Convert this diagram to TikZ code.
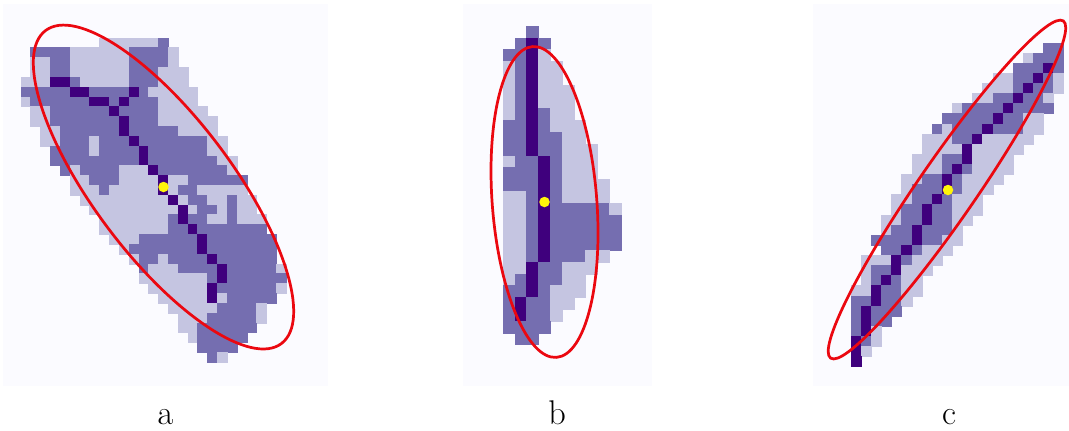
\documentclass[tikz,border=0pt]{standalone}
\usepackage{amsmath}
\definecolor{bg}{RGB}{251,251,255}
\definecolor{pl}{RGB}{197,197,225}
\definecolor{pm}{RGB}{117,110,176}
\definecolor{pd}{RGB}{63,0,125}
\definecolor{ring}{RGB}{235,8,16}
\definecolor{mean}{RGB}{255,245,10}
\tikzset{
  % Raster
  panel/.style={fill=bg},
  pixl/.style={fill=pl, draw=pl, line width=0.15pt},
  pixm/.style={fill=pm, draw=pm, line width=0.15pt},
  pixd/.style={fill=pd, draw=pd, line width=0.15pt},
  % Ellipse und Schwerpunkt
  ring/.style={draw=ring, line width=1.55pt},
  mean/.style={fill=mean},
  lbl/.style={anchor=base, font=\fontsize{19.5}{22}\selectfont},
}
\newcount\pixcol
% eine Zeile abarbeiten: - leer, l/m/d Farbstufe, ; Ende
\def\pixcells#1{\ifx#1;\else
    \ifx#1-\else \fill[pix#1] (\the\pixcol,\j) rectangle +(1,1);\fi
    \advance\pixcol by 1
    \expandafter\pixcells\fi}
\begin{document}
\begin{tikzpicture}[x=0.02cm, y=-0.02cm]
  \useasboundingbox (0,0) rectangle (1069,430);
  \fill[white] (0,0) rectangle (1069,430);
  % Hintergrund
  \fill[panel] (3,4) rectangle (328,386);
  \fill[panel] (463,4) rectangle (652,386);
  \fill[panel] (813,4) rectangle (1069,386);
  % Teil a
  \begin{scope}[shift={(20.7,37.7)}, x=0.1966cm, y=-0.1966cm]
    \foreach \row [count=\j from 0] in {
      --------llllllm,
      -mmmmllllllmmmml,
      -llmmllllllmmmml,
      -llmmllllllmmmlll,
      lllddmlllllmmmlll,
      mmmmmddmmmmdmlllll,
      lmmmmmmddmdmmmllll,
      -llmmmmmmdmmmmlllll,
      -llmmmmmmmdmmmllllll,
      --llmmmmmmdmmmmmllll,
      --llmmmlmmmdmmmmmmmll,
      ---mmmmlmmmmdmmmmmmll,
      ---mmmmmmmmmdmmmmmmmll,
      ----mlmmmmllldmmmmmmml,
      -----llmmmlllldllmmmmmm,
      -----lllmllllldlmmlllll,
      ------llllllllldlmmllmll,
      -------llllllllldlmmlmll,
      --------lllllllmdmmllmlll,
      --------lllllllmmdmmmmmmm,
      ---------lllmmmmmmdmmmmmmm,
      ----------lmmmmmmmdmmmmmmm,
      -----------lmmlmmmmdmmmmmm,
      ------------mlllmmmmdmmmmml,
      ------------lllllllmdmmmmmm,
      -------------lllllldmmmmmml,
      --------------llllldlmmmmm,
      ---------------lllllmmmml,
      ----------------lllmmmmml,
      ----------------llmmmmmm,
      -----------------lmmmmm,
      ------------------mmmm,
      -------------------ml}
      {\pixcol=0 \expandafter\pixcells\row;}
  \end{scope}
  % Teil b
  \begin{scope}[shift={(503,26)}, x=0.236cm, y=-0.236cm]
    \foreach \row [count=\j from 0] in {
      --m,
      -mdm,
      mmdl,
      lmdll,
      lmdll,
      lmdlll,
      lmdlll,
      lmdmll,
      mmdmlll,
      mmdmmll,
      mmdmmlll,
      lmmdmlll,
      mmmdmlll,
      mmmdmllll,
      llmdmllll,
      llmdmmmmml,
      llmdmmmmmm,
      llmdmmmmmm,
      llmdmmmmmm,
      llmdmmmll,
      lldmmlll,
      lmdmmll,
      mmdmlll,
      mdmmll,
      mdmml,
      mmmm,
      -mm}
      {\pixcol=0 \expandafter\pixcells\row;}
  \end{scope}
  % Teil c
  \begin{scope}[shift={(851,42.7)}, x=0.2024cm, y=-0.2024cm]
    \foreach \row [count=\j from 0] in {
      -------------------mm,
      -----------------lmmm,
      ----------------mmmdm,
      --------------llmmdml,
      -------------lllmdmml,
      ------------llmmdmml,
      ----------lmmmmdmmmm,
      ---------mmmmmdmmll,
      --------mlmmmdmmmll,
      -------lllmmdlllll,
      -------lllldlllll,
      ------lllmmdllll,
      ------lllmdmllll,
      -----llmmdmllll,
      -----lmmmdmlll,
      ----llmmdmlll,
      ----lmmdmmlll,
      ---llmmdmmll,
      ---lmmdmmml,
      --mmmmdmmll,
      ---mmdmlll,
      -llldmlll,
      -lmmdlll,
      -lmdmll,
      lldmmll,
      mmdmml,
      mdmmm,
      mdmm,
      mdl,
      dml,
      dl,
      d}
      {\pixcol=0 \expandafter\pixcells\row;}
  \end{scope}
  % Ellipsen
  \coordinate (Ca) at (163.5,187);
  \coordinate (Cb) at (544.5,202);
  \coordinate (Cc) at (947,189.5);
  \draw[ring, rotate around={-53:(Ca)}] (Ca) ellipse [x radius=3.92cm, y radius=1.38cm];
  \draw[ring, rotate around={-85.6:(Cb)}] (Cb) ellipse [x radius=3.118cm, y radius=1.046cm];
  \draw[ring, rotate around={55.4:(Cc)}] (Cc) ellipse [x radius=4.098cm, y radius=0.58cm];
  % Schwerpunkte
  \fill[mean] (Ca) circle [radius=0.105cm];
  \fill[mean] (Cb) circle [radius=0.105cm];
  \fill[mean] (948,190) circle [radius=0.105cm];
  % Beschriftung
  \node[lbl] (la) at (165.5,424) {a};
  \node[lbl] (lb) at (557,424) {b};
  \node[lbl] (lc) at (949,424) {c};
\end{tikzpicture}
\end{document}
